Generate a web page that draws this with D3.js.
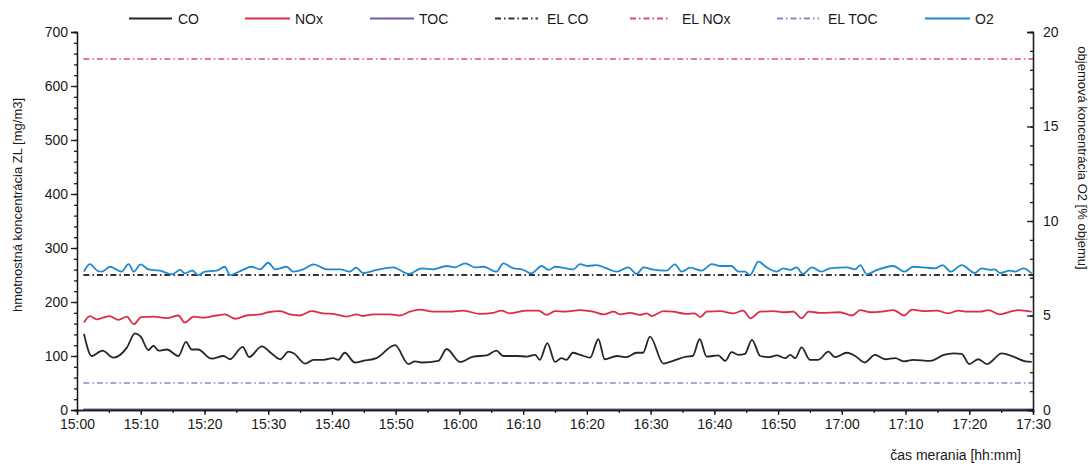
<!DOCTYPE html>
<html><head><meta charset="utf-8">
<script src="https://cdn.jsdelivr.net/npm/d3@7/dist/d3.min.js"></script>
<style>
body{margin:0;background:#fff;}
svg text{font-family:"Liberation Sans",Arial,sans-serif;fill:#1a1a1a;}
</style></head>
<body><svg id="c" width="1091" height="469"></svg>
<script>
// ---- data (minutes after 15:00) ----
const xTickLabels = ["15:00","15:10","15:20","15:30","15:40","15:50","16:00","16:10","16:20","16:30","16:40","16:50","17:00","17:10","17:20","17:30"];
const leftTicks = [0,100,200,300,400,500,600,700];
const rightTicks = [0,5,10,15,20];

const coT = [1.1,2.3,4.0,5.7,7.8,9.1,10.0,11.2,12.0,12.8,14.1,15.9,17.1,18,19,21.1,23,24,26,27,29,30.5,31.9,33.2,34,35.8,37.1,38.7,40.2,41,42,43.6,44.9,47,49.9,52,53,54.1,56.7,58,60.1,62.2,64.3,65.8,66.9,69,70.6,71.9,72.6,73.8,75,76,76.8,77.8,79,80.5,81.8,82.8,84.7,86.2,87.8,88.8,89.9,92,93.5,95.6,96.6,97.7,98.8,100.6,101.7,102.7,103.8,104.8,105.9,107.2,108.5,109.8,111.1,111.9,112.7,113.7,115,116.3,117.9,118.9,120.8,122.1,123.6,125.2,126.8,128.4,129.7,131.2,133.9,136,137.5,138.8,140,141.4,142.8,145.1,146.9,148.8,149.8];
const coV = [141,100,110,97,115,142,136,111,119,110,112,100,126,112,112,95,100,94,117,98,118,105,94,108,105,86,93,93,96,93,106,88,91,96,120,85,90,88,91,113,89,99,101,110,100,100,99,102,93,124,89,96,93,106,102,97,131,94,100,98,106,106,136,86,91,99,100,131,99,101,91,107,102,104,130,100,98,101,96,102,96,116,93,93,108,98,106,100,88,102,94,96,90,93,91,102,105,104,85,94,85,105,99,90,89];

const noxT = [1.1,2.0,3.1,5.1,6.5,7.8,8.9,10.1,12,14.1,15.9,16.9,18.3,19.8,21.9,23.2,24.8,26.6,28.7,30,31.9,33.4,35,36.8,38.7,40.2,42.3,43.9,44.9,46.5,49.1,50.7,52.2,53.8,55.9,58.5,60.6,63.2,65.3,66.6,67.9,70.6,72.4,73.7,75,76.6,78.9,81,82.6,84.2,85.2,86.8,88.3,89.4,90.2,92,93.5,95.6,96.9,97.8,98.8,100.9,103,104.5,105.7,107.2,109.3,110.8,112.4,113.7,114.8,116.6,119.7,121.6,122.9,124.4,126.3,128.1,129.8,131,132.8,134.9,136.7,138.3,139.6,141.7,143,144.8,146.1,147.7,149.8];
const noxV = [162,174,168,174,167,173,159,172,173,170,175,162,173,171,175,177,169,175,177,181,183,177,175,183,179,178,173,177,174,177,177,175,182,186,182,182,184,178,180,184,179,184,184,176,183,182,185,182,177,182,177,180,176,179,174,183,182,178,179,172,182,183,179,184,170,182,183,181,182,170,182,180,181,175,185,181,182,185,175,186,183,184,179,184,182,182,185,177,181,185,182];

const tocT = [1,150];
const tocV = [1,1];

const o2T = [1.1,2.0,3.2,3.9,5.2,7.0,8.1,8.9,10,11.2,13,14.9,16.2,16.9,18.1,19,20.1,21.9,23.2,24,25.6,27.4,28.7,30,31.1,32.9,33.9,35.5,37.1,39.2,41.3,42.8,43.8,44.9,47,49.6,52,54.1,55.9,58,59.3,60.9,62.4,63.8,65.8,66.9,68.5,69.8,71.3,72.9,74,75,76.8,77.9,78.9,80.2,81.5,83.1,84.7,86.5,87.8,88.9,90.2,92.5,93.8,94.9,96.2,98,99.6,101,102.7,103.8,104.8,105.6,106.9,108.2,109.8,110.8,111.9,112.9,113.9,115.3,116.8,118.1,120.8,122.1,122.9,123.9,125.5,128.1,129.8,131.2,133.3,134.6,135.8,137.1,138.8,140.9,141.9,143.3,144,144.8,146.4,147.2,148.5,149.8];
const o2V = [7.32,7.72,7.37,7.32,7.58,7.32,7.72,7.32,7.71,7.44,7.37,7.18,7.41,7.23,7.37,7.14,7.32,7.37,7.58,7.14,7.35,7.58,7.44,7.79,7.44,7.58,7.32,7.44,7.71,7.44,7.44,7.32,7.53,7.25,7.41,7.55,7.20,7.49,7.44,7.62,7.55,7.76,7.55,7.58,7.32,7.76,7.49,7.44,7.23,7.62,7.41,7.58,7.49,7.44,7.72,7.62,7.67,7.49,7.32,7.55,7.20,7.55,7.44,7.37,7.71,7.32,7.53,7.37,7.72,7.62,7.62,7.32,7.32,7.14,7.85,7.55,7.32,7.49,7.41,7.55,7.20,7.55,7.32,7.49,7.55,7.44,7.67,7.18,7.41,7.62,7.32,7.58,7.53,7.49,7.67,7.32,7.67,7.25,7.49,7.41,7.44,7.25,7.37,7.32,7.49,7.23];

const elCO = 250, elNOx = 650, elTOC = 50;

// ---- layout ----
const svg = d3.select("#c");
const X0 = 77, X1 = 1033, Y0 = 410, Y1 = 32;
const x = d3.scaleLinear().domain([0,150]).range([X0,X1]);
const yL = d3.scaleLinear().domain([0,700]).range([Y0,Y1]);
const yR = d3.scaleLinear().domain([0,20]).range([Y0,Y1]);

const colors = {CO:"#262626", NOx:"#dc2c48", TOC:"#7455b0", O2:"#1f88cf", ELCO:"#333333", ELNOx:"#e24d68", ELTOC:"#8c86c6"};
const dash = "6,3,1.5,3";

function series(T,V,scale){ return T.map((t,i)=>[x(t),scale(V[i])]); }
const line = d3.line().curve(d3.curveMonotoneX);

// EL lines
[[elNOx,colors.ELNOx],[elCO,colors.ELCO],[elTOC,colors.ELTOC]].forEach(([v,c])=>{
  svg.append("path").attr("d",line([[x(1),yL(v)],[x(150),yL(v)]]))
    .attr("stroke",c).attr("stroke-width",v===elCO?2:1.6).attr("fill","none").attr("stroke-dasharray",dash);
});
// data lines
svg.append("path").attr("d",line(series(o2T,o2V,yR))).attr("stroke",colors.O2).attr("stroke-width",1.8).attr("fill","none");
svg.append("path").attr("d",line(series(noxT,noxV,yL))).attr("stroke",colors.NOx).attr("stroke-width",1.8).attr("fill","none");
svg.append("path").attr("d",line(series(coT,coV,yL))).attr("stroke",colors.CO).attr("stroke-width",1.8).attr("fill","none");
svg.append("path").attr("d",line(series(tocT,tocV,yL))).attr("stroke",colors.TOC).attr("stroke-width",1.8).attr("fill","none");

// axes
function styleAxis(g){ g.selectAll("path,line").attr("stroke","#1a1a1a").attr("stroke-width",1.3); g.selectAll("text").attr("font-size",14).attr("fill","#1a1a1a").attr("font-family","Liberation Sans, Arial, sans-serif"); }

const xMinor = d3.range(0,151,5);
svg.append("g").attr("transform",`translate(0,${Y0})`)
  .call(d3.axisBottom(x).tickValues(xMinor).tickSize(3).tickFormat("")).call(styleAxis);
svg.append("g").attr("transform",`translate(0,${Y0})`)
  .call(d3.axisBottom(x).tickValues(d3.range(0,151,10)).tickSize(5).tickPadding(4).tickFormat((d,i)=>xTickLabels[i])).call(styleAxis);

svg.append("g").attr("transform",`translate(${X0},0)`)
  .call(d3.axisLeft(yL).tickValues(d3.range(0,701,20)).tickSize(3).tickFormat("")).call(styleAxis);
svg.append("g").attr("transform",`translate(${X0},0)`)
  .call(d3.axisLeft(yL).tickValues(leftTicks).tickSize(6).tickPadding(3).tickFormat(d3.format("d"))).call(styleAxis);

svg.append("g").attr("transform",`translate(${X1},0)`)
  .call(d3.axisRight(yR).tickValues(d3.range(0,21,1)).tickSize(-3).tickFormat("")).call(styleAxis);
svg.append("g").attr("transform",`translate(${X1},0)`)
  .call(d3.axisRight(yR).tickValues(rightTicks).tickSizeInner(-6).tickSizeOuter(-6).tickPadding(10).tickFormat(d3.format("d"))).call(styleAxis);

// axis titles
svg.append("text").attr("transform",`translate(22,205) rotate(-90)`).attr("text-anchor","middle")
  .attr("font-size",13).text("hmotnostná koncentrácia ZL [mg/m3]");
svg.append("text").attr("transform",`translate(1078,158) rotate(90)`).attr("text-anchor","middle")
  .attr("font-size",13).text("objemová koncentrácia O2 [% objemu]");
svg.append("text").attr("x",1021).attr("y",460).attr("text-anchor","end").attr("font-size",14).text("čas merania [hh:mm]");

// legend
const legend = [
  {name:"CO", c:colors.CO, d:null, x1:129, x2:172, tx:178},
  {name:"NOx", c:colors.NOx, d:null, x1:245, x2:290, tx:295},
  {name:"TOC", c:colors.TOC, d:null, x1:370, x2:414, tx:419},
  {name:"EL CO", c:colors.ELCO, d:dash, x1:495, x2:538, tx:547},
  {name:"EL NOx", c:colors.ELNOx, d:dash, x1:630, x2:670, tx:682},
  {name:"EL TOC", c:colors.ELTOC, d:dash, x1:777, x2:819, tx:828},
  {name:"O2", c:colors.O2, d:null, x1:925, x2:970, tx:975}
];
legend.forEach(l=>{
  svg.append("line").attr("x1",l.x1).attr("x2",l.x2).attr("y1",18.5).attr("y2",18.5)
    .attr("stroke",l.c).attr("stroke-width",1.8).attr("stroke-dasharray",l.d);
  svg.append("text").attr("x",l.tx).attr("y",24).attr("font-size",14).text(l.name);
});
</script></body></html>
